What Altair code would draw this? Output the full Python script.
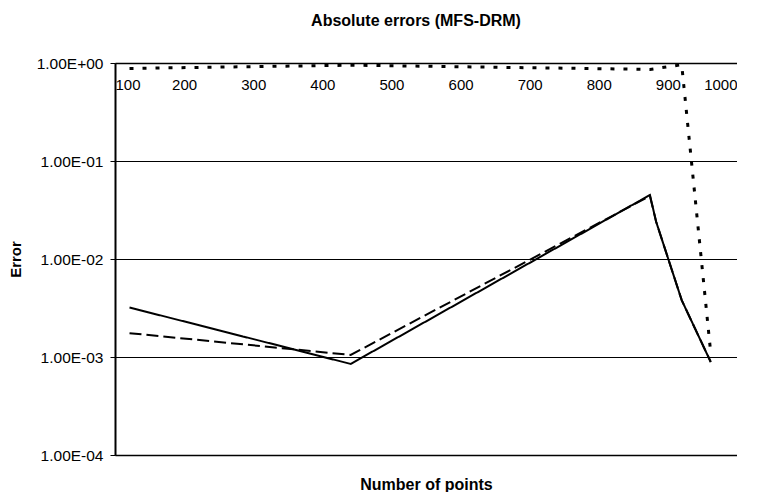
import altair as alt
import pandas as pd

# Data
x_main = [121, 441, 874, 883, 920, 962]
err_solid = [3.2e-3, 8.5e-4, 4.5e-2, 2.4e-2, 3.8e-3, 8.9e-4]
err_dashed = [1.75e-3, 1.05e-3, 4.4e-2, 2.4e-2, 3.8e-3, 8.9e-4]
x_dotted = [121, 441, 874, 920, 962]
err_dotted = [0.88, 0.95, 0.86, 0.96, 1.1e-3]

x_ticks = [100, 200, 300, 400, 500, 600, 700, 800, 900, 1000]
y_ticks = [1, 0.1, 0.01, 0.001, 0.0001]

FONT = "Liberation Sans"
W, H = 622, 392

df_solid = pd.DataFrame({"x": x_main, "y": err_solid})
df_dashed = pd.DataFrame({"x": x_main, "y": err_dashed})
df_dotted = pd.DataFrame({"x": x_dotted, "y": err_dotted})

xscale = alt.Scale(domain=[100, 1000], nice=False, zero=False)
yscale = alt.Scale(type="log", domain=[1e-4, 1], nice=False)

y_enc = alt.Y(
    "y:Q",
    scale=yscale,
    axis=alt.Axis(
        values=y_ticks,
        title="Error",
        titleFont=FONT,
        titleFontSize=15,
        titleFontWeight="bold",
        titleColor="#000",
        titlePadding=13,
        labelFont=FONT,
        labelFontSize=15.5,
        labelColor="#000",
        labelPadding=7,
        labelExpr="'1.00E' + (datum.value < 0.5 ? '-' : '+') + '0' + abs(round(log(datum.value)/LN10))",
        tickColor="#000",
        tickSize=5,
        domainColor="#000",
        domainWidth=2,
        grid=True,
        gridColor="#000",
        gridWidth=1,
        gridOpacity=1,
    ),
)

x_top = alt.X(
    "x:Q",
    scale=xscale,
    axis=alt.Axis(
        orient="bottom",
        offset=-H,
        values=x_ticks,
        format="d",
        title=None,
        grid=False,
        ticks=False,
        labelFont=FONT,
        labelFontSize=15,
        labelColor="#000",
        labelPadding=14,
        domainColor="#000",
        domainWidth=1.5,
    ),
)


def line(df, dash, width):
    return alt.Chart(df).mark_line(
        color="#000", strokeWidth=width, strokeDash=dash, clip=True
    ).encode(x=x_top, y=y_enc)


solid = line(df_solid, [1, 0], 2)
dashed = line(df_dashed, [12, 5], 2)
dotted = line(df_dotted, [4, 9], 3)

lines = alt.layer(solid, dashed, dotted)

x_bottom = alt.X(
    "x:Q",
    scale=xscale,
    axis=alt.Axis(
        orient="bottom",
        values=x_ticks,
        title="Number of points",
        titleFont=FONT,
        titleFontSize=16,
        titleFontWeight="bold",
        titleColor="#000",
        titlePadding=21,
        labels=False,
        ticks=False,
        grid=False,
        domainColor="#000",
        domainWidth=1.5,
    ),
)

ghost = alt.Chart(df_solid).mark_line(strokeOpacity=0).encode(x=x_bottom, y=y_enc)

chart = (
    alt.layer(lines, ghost)
    .resolve_axis(x="independent")
    .properties(
        width=W,
        height=H,
        padding={"left": 0, "top": 5, "right": 0, "bottom": 0},
        title=alt.TitleParams(
            "Absolute errors (MFS-DRM)",
            font=FONT,
            fontSize=16,
            fontWeight="bold",
            color="#000",
            offset=27,
            anchor="middle",
            dx=-10,
        ),
    )
    .configure_view(stroke="#808080", strokeWidth=1.5)
    .configure(background="white")
)

chart.save("out.html", embed_options={"renderer": "svg", "actions": False})
